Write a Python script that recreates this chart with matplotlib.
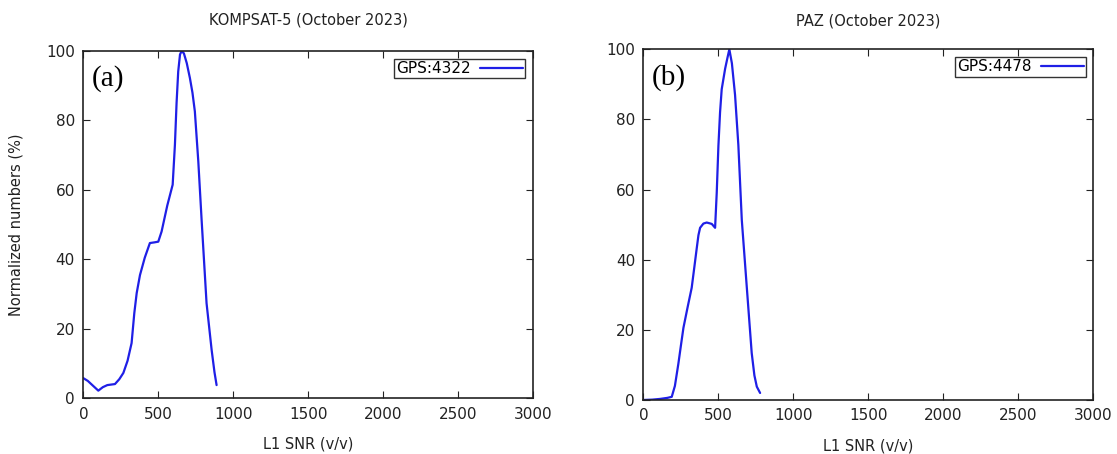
import matplotlib

matplotlib.use("Agg")
import matplotlib.pyplot as plt

# ==========================================
# Data
# ==========================================
KOMP_SNR = [0, 30, 60, 100, 130, 160, 211, 240, 267, 295, 322, 340, 356, 378,
            410, 444, 475, 500, 522, 560, 596, 611, 622, 633, 645, 656, 671,
            690, 711, 728, 744, 767, 789, 822, 856, 875, 889]
KOMP_PCT = [5.8, 5.0, 3.8, 2.2, 3.2, 3.8, 4.1, 5.5, 7.3, 10.8, 15.9, 24.5, 30.3,
            35.5, 40.5, 44.7, 44.9, 45.1, 48.0, 55.5, 61.5, 73.0, 85.0, 94.1,
            99.0, 100.0, 99.3, 96.5, 92.2, 88.0, 82.6, 68.2, 51.4, 27.4, 13.9,
            7.5, 3.8]

PAZ_SNR = [0, 60, 111, 160, 189, 210, 233, 250, 267, 295, 322, 340, 356, 367,
           378, 400, 422, 440, 456, 478, 489, 500, 511, 522, 545, 560, 573, 590,
           611, 633, 656, 689, 722, 740, 756, 778]
PAZ_PCT = [0, 0.1, 0.3, 0.6, 0.9, 4.0, 10.3, 15.5, 20.6, 26.5, 32.0, 38.0, 43.4,
           47.0, 49.1, 50.3, 50.6, 50.4, 50.2, 49.1, 59.2, 72.4, 82.0, 88.6,
           94.5, 97.5, 100.0, 96.0, 87.0, 72.7, 51.3, 32.3, 13.4, 7.0, 3.8, 2.0]

PANELS = [
    ("KOMPSAT-5 (October 2023)", "(a)", "GPS:4322", KOMP_SNR, KOMP_PCT),
    ("PAZ (October 2023)", "(b)", "GPS:4478", PAZ_SNR, PAZ_PCT),
]

X_TICKS = [0, 500, 1000, 1500, 2000, 2500, 3000]
Y_TICKS = [0, 20, 40, 60, 80, 100]

# ==================== Plotting ====================
fig = plt.figure(figsize=(11.17, 4.54), dpi=100)
positions = [[0.0746, 0.1227, 0.4026, 0.765], [0.576, 0.119, 0.4029, 0.7724]]

for i, (title, tag, lab, xs, ys) in enumerate(PANELS):
    ax = fig.add_axes(positions[i])
    ax.plot(xs, ys, color="#1f1fe6", lw=1.6, label=lab,
            solid_joinstyle="round", solid_capstyle="round")
    ax.set_xlim(0, 3000)
    ax.set_ylim(0, 100)
    ax.set_xticks(X_TICKS)
    ax.set_yticks(Y_TICKS)
    ax.tick_params(direction="in", top=True, right=True, length=5,
                   labelsize=11, pad=6, colors="#222222")
    for s in ax.spines.values():
        s.set_linewidth(1.2)
        s.set_color("#222222")
    ax.set_title(title, fontsize=10.5, pad=19 if i == 0 else 17, color="#222222")
    ax.set_xlabel("L1 SNR (v/v)", fontsize=10.5, labelpad=11, color="#222222")
    if i == 0:
        ax.set_ylabel("Normalized numbers (%)", fontsize=10.5, labelpad=16,
                      color="#222222")
    ax.text(0.018, 0.92, tag, transform=ax.transAxes, fontsize=21,
            family="Liberation Serif", ha="left", va="center")
    leg = ax.legend(loc="upper right", fontsize=11, frameon=True, fancybox=False,
                    handlelength=2.8, borderpad=0.15, handletextpad=0.6,
                    borderaxespad=0.5, markerfirst=False)
    leg.get_frame().set_edgecolor("black")
    leg.get_frame().set_linewidth(1.0)

fig.savefig("out.png", dpi=100)
plt.close(fig)
